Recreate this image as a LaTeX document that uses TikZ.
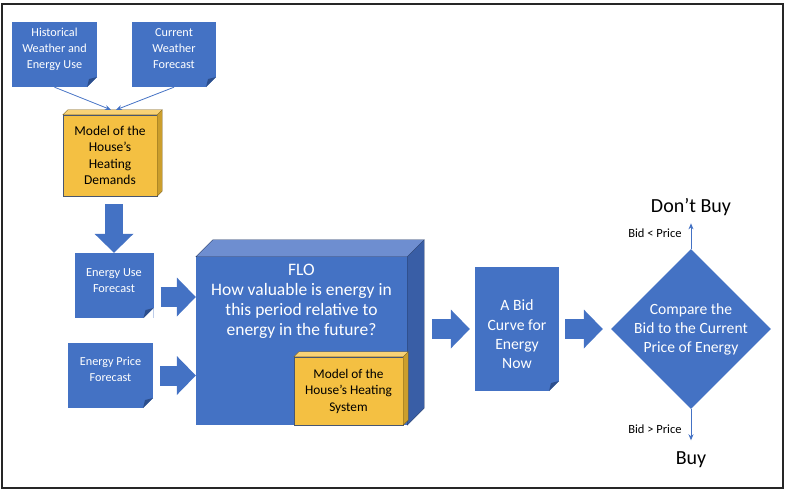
\documentclass[tikz,border=0pt]{standalone}
\usepackage{fontspec}
\setmainfont{Carlito}
\usetikzlibrary{shapes.geometric, arrows.meta, calc}
\definecolor{office_blue}{RGB}{68, 114, 196}
\definecolor{blue_top}{RGB}{110, 142, 208}
\definecolor{blue_side}{RGB}{57, 94, 166}
\definecolor{fold_blue}{RGB}{44, 78, 140}
\definecolor{gold}{RGB}{244, 192, 66}
\definecolor{gold_top}{RGB}{248, 210, 118}
\definecolor{gold_side}{RGB}{203, 158, 44}
\definecolor{box_edge}{RGB}{72, 86, 112}
\def \fsz #1#2{\fontsize{#1}{#2}\selectfont}
% top and right faces of a box: node, depth, colour
\def \boxfaces #1#2#3{
    \filldraw[fill=#3_top, draw=#3_side!60!black, line width=0.3pt] (#1.north west) -- ++(#2,-#2) -- ($(#1.north east)+(#2,-#2)$) -- (#1.north east) -- cycle;
    \filldraw[fill=#3_side, draw=#3_side!60!black, line width=0.3pt] (#1.north east) -- ++(#2,-#2) -- ($(#1.south east)+(#2,-#2)$) -- (#1.south east) -- cycle;
}

\begin{document}
\begin{tikzpicture}[
    x=1pt, y=-1pt,
    % Document with a folded corner
    doc/.style={
        rectangle,
        fill=office_blue,
        inner sep=0pt,
        path picture={
            \fill[white] ([xshift=-10pt]path picture bounding box.south east) -- (path picture bounding box.south east) -- ([yshift=10pt]path picture bounding box.south east) -- cycle;
            \fill[fold_blue] ([xshift=-10pt]path picture bounding box.south east) -- ([yshift=10pt]path picture bounding box.south east) -- ([xshift=-8pt, yshift=8pt]path picture bounding box.south east) -- cycle;
        }
    },
    % Text on a blue shape
    doctext/.style={
        text=white,
        align=center,
        inner sep=0pt,
        font=\fsz{#1}{16}
    },
    % Front face of a box
    boxfront/.style={
        rectangle,
        fill=#1,
        align=center,
        inner sep=0pt
    },
    % Block arrow
    flow/.style={
        draw=office_blue,
        line width=#1,
        -{Triangle[length=19pt, width=39pt, line width=0pt]}
    },
    % Thin arrow
    feed/.style={
        draw=office_blue,
        line width=0.8pt,
        -{Stealth[length=6pt, width=5pt]}
    },
    outcome/.style={
        inner sep=2pt,
        font=\fsz{20}{24}
    },
    cond/.style={
        inner sep=3pt,
        font=\fsz{12.5}{15}
    }
]
\useasboundingbox (0,0) rectangle (796,496);
\draw[line width=2pt, black!85] (1.5,4) rectangle (783,488);

% Inputs of the demand model
\node[doc, minimum width=85, minimum height=65] (hist) at (54.5,54.5) {};
\node[doctext=12.2] (hist_text) at (54.5,49) {Historical\\Weather and\\Energy Use};
\node[doc, minimum width=84, minimum height=65] (curr) at (174,54.5) {};
\node[doctext=12.2] (curr_text) at (174,48.5) {Current\\Weather\\Forecast};

% Demand model
\node[boxfront=gold, draw=box_edge, line width=0.4pt, minimum width=94, minimum height=81, font=\fsz{13.5}{16.3}] (demand) at (110,155.5) {Model of the\\House’s\\Heating\\Demands};
\boxfaces{demand}{5}{gold}

\draw[feed] (hist.south) -- ($(demand.north)+(1,-5)$);
\draw[feed] (curr.south) -- ($(demand.north)+(6,-5)$);

% Forecasts
\node[doc, minimum width=79, minimum height=65] (usefc) at (114,285.5) {};
\node[doctext=12.3] (usefc_text) at (114,281) {Energy Use\\Forecast};
\node[doc, minimum width=85, minimum height=65] (pricefc) at (110.5,375.5) {};
\node[doctext=12.2] (pricefc_text) at (110.5,369.5) {Energy Price\\Forecast};

\draw[flow=18] ($(demand.south)+(4,8)$) -- (usefc.north);

% FLO
\node[boxfront=office_blue, minimum width=211, minimum height=168] (flo) at (301.5,341) {};
\boxfaces{flo}{17}{blue}
\node[doctext=17.5, font=\fsz{17.5}{20}, anchor=north] (flo_text) at ($(flo.north)+(0,7)$) {FLO\\How valuable is energy in\\this period relative to\\energy in the future?};
\node[boxfront=gold, draw=box_edge, line width=0.4pt, minimum width=109, minimum height=68, font=\fsz{13.3}{16.5}] (heatsys) at (348.5,391) {Model of the\\House’s Heating\\System};
\boxfaces{heatsys}{5}{gold}

\draw[flow=20] ($(usefc.east)+(7,11.5)$) -- ($(flo.west)+(0,-44)$);
\draw[flow=20] ($(pricefc.east)+(7,0)$) -- ($(flo.west)+(0,34.5)$);

% Bid curve and decision
\node[doc, minimum width=84, minimum height=124] (bid) at (517,329) {};
\node[doctext=15.7, font=\fsz{15.7}{19.3}] (bid_text) at (517,334.5) {A Bid\\Curve for\\Energy\\Now};
\node[diamond, aspect=1, fill=office_blue, inner sep=0pt, minimum width=160, minimum height=160] (cmp) at (691,329) {};
\node[doctext=15.6, font=\fsz{15.6}{19}] (cmp_text) at (691,329) {Compare the\\Bid to the Current\\Price of Energy};

\draw[flow=20] ($(bid.west)+(-43,0)$) -- ($(bid.west)+(-5,0)$);
\draw[flow=20] ($(bid.east)+(6,0)$) -- ($(cmp.west)+(-8,0)$);

\node[outcome] (dontbuy) at (691,207) {Don’t Buy};
\node[outcome] (buy) at (691,460) {Buy};

\draw[feed, shorten >=5.5pt] (cmp.north) -- node[cond, midway, left=6pt] (lower) {Bid < Price} (dontbuy);
\draw[feed, shorten >=9.5pt] (cmp.south) -- node[cond, midway, left=6pt] (higher) {Bid > Price} (buy);

\end{tikzpicture}
\end{document}
